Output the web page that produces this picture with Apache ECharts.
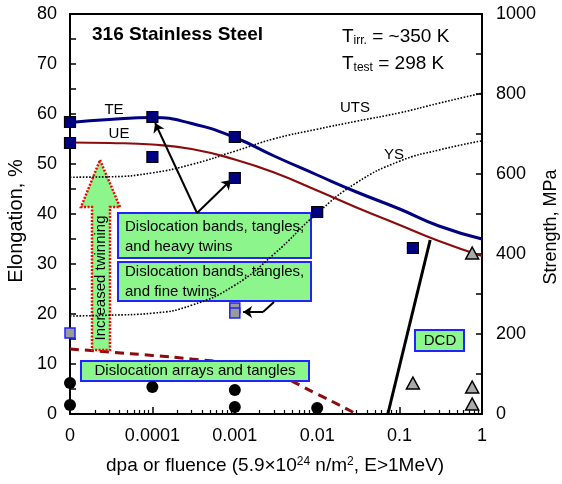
<!DOCTYPE html>
<html>
<head>
<meta charset="utf-8">
<script src="https://cdn.jsdelivr.net/npm/echarts@6/dist/echarts.min.js"></script>
<style>html,body{margin:0;padding:0;background:#fff}#c{width:562px;height:484px}</style>
</head>
<body>
<div id="c"></div>
<script>
// ---- data ----
const xTickLabels = ['0', '0.0001', '0.001', '0.01', '0.1', '1'];
const xTickDpa = [0, 1e-4, 1e-3, 1e-2, 1e-1, 1];

const curveDpa = [0, 3e-5, 1e-4, 3e-4, 1e-3, 3e-3, 1e-2, 3e-2, 0.1, 0.3, 1];
const teValues = [58.3, 58.9, 59.3, 58.1, 55.3, 51.6, 47.8, 44.4, 41.0, 37.6, 35.0];
const ueValues = [54.3, 54.2, 53.9, 53.0, 50.9, 48.3, 44.7, 41.3, 37.8, 34.6, 31.6];
const utsMPa = [592, 593, 603, 624, 657, 688, 712, 732, 753, 777, 802];
const ysMPa = [245, 247, 252, 272, 322, 400, 502, 578, 632, 660, 683];

const dashedDpa = [0, 3e-5, 1e-4, 3e-4, 1e-3, 3e-3, 1e-2, 3e-2];
const dashedValues = [13.0, 12.4, 11.7, 11.0, 10.0, 8.0, 4.0, 0.0];

const navySqDpa = [0, 0, 1e-4, 1e-4, 1e-3, 1e-3, 1e-2, 0.145];
const navySqVal = [58.4, 54.2, 59.4, 51.4, 55.4, 47.2, 40.4, 33.2];
const graySqDpa = [0, 1e-3, 1e-3];
const graySqVal = [16.2, 21.2, 20.2];
const triDpa = [0.76, 0.145, 0.76, 0.76];
const triVal = [32.2, 6.2, 5.4, 2.0];
const circDpa = [0, 0, 1e-4, 1e-3, 1e-3, 1e-2];
const circVal = [6.2, 1.8, 5.4, 4.8, 1.4, 1.2];

const dcdDpa = [0.072, 0.235];
const dcdVal = [0, 34.8];

// annotation arrows: [fromDpa, fromVal, toDpa, toVal, arrow]
const arrowSegs = [
  [3.48e-4, 40.2, 1.08e-4, 58.2, true],
  [3.48e-4, 40.2, 9.0e-4, 46.8, true],
  [2.99e-3, 22.4, 2.2e-3, 20.4, false],
  [2.2e-3, 20.4, 1.26e-3, 20.4, true]
];

// ---- helpers ----
function pos(d) { return d <= 1e-5 ? 0 : Math.log10(d) + 5; }
function pairs(xs, ys) { return xs.map((d, i) => [pos(d), ys[i]]); }
const majorPos = xTickDpa.map(pos);
const minorPos = [];
for (let dec = 0; dec < 5; dec++) for (let k = 2; k <= 9; k++) minorPos.push(dec + Math.log10(k));

const FONT = '"Liberation Sans", Arial, Helvetica, sans-serif';
const GREEN = '#8cf58c';
const BLUE = '#2222ff';
const NAVY = '#000080';
const DRED = '#8b0c0c';
const SMOOTH = 0.5;

const chart = echarts.init(document.getElementById('c'), null, {renderer: 'canvas'});

const option = {
  animation: false,
  backgroundColor: '#fff',
  textStyle: {fontFamily: FONT},
  grid: {left: 70, right: 80, top: 14, bottom: 70, containLabel: false},
  xAxis: [
    {
      type: 'value', min: 0, max: 5, position: 'bottom',
      axisLine: {show: true, onZero: false, lineStyle: {color: '#000', width: 2}},
      axisTick: {show: true, inside: true, length: 7, customValues: majorPos, lineStyle: {color: '#000', width: 1.5}},
      axisLabel: {show: true, customValues: majorPos, margin: 13, fontSize: 18, color: '#000', fontFamily: FONT,
        formatter: v => xTickLabels[Math.round(v)]},
      splitLine: {show: false}
    },
    {
      type: 'value', min: 0, max: 5, position: 'bottom',
      axisLine: {show: false},
      axisTick: {show: true, inside: true, length: 4, customValues: minorPos, lineStyle: {color: '#000', width: 1.2}},
      axisLabel: {show: false},
      splitLine: {show: false}
    },
    {
      type: 'value', min: 0, max: 5, position: 'top',
      axisLine: {show: true, onZero: false, lineStyle: {color: '#000', width: 2}},
      axisTick: {show: false}, axisLabel: {show: false}, splitLine: {show: false}
    }
  ],
  yAxis: [
    {
      type: 'value', min: 0, max: 80, interval: 5, position: 'left',
      axisLine: {show: true, onZero: false, lineStyle: {color: '#000', width: 2}},
      axisTick: {show: true, inside: true, length: 6, lineStyle: {color: '#000', width: 1.5}},
      axisLabel: {margin: 13, fontSize: 18, color: '#000', fontFamily: FONT,
        formatter: v => (v % 10 === 0 ? String(v) : '')},
      splitLine: {show: false}
    },
    {
      type: 'value', min: 0, max: 1000, interval: 100, position: 'right',
      axisLine: {show: true, onZero: false, lineStyle: {color: '#000', width: 2}},
      axisTick: {show: true, inside: true, length: 6, lineStyle: {color: '#000', width: 1.5}},
      axisLabel: {margin: 14, fontSize: 18, color: '#000', fontFamily: FONT,
        formatter: v => (v % 200 === 0 ? String(v) : '')},
      splitLine: {show: false}
    }
  ],
  series: [
    {
      name: 'dashed', type: 'line', z: 1, xAxisIndex: 0, yAxisIndex: 0,
      data: pairs(dashedDpa, dashedValues), smooth: SMOOTH, showSymbol: false,
      lineStyle: {color: DRED, width: 3, type: [9, 6]}, clip: true
    },
    {
      name: 'UTS', type: 'line', z: 3, yAxisIndex: 1,
      data: pairs(curveDpa, utsMPa), smooth: SMOOTH, showSymbol: false,
      lineStyle: {color: '#000', width: 1.6, type: [1.6, 1.6]}
    },
    {
      name: 'YS', type: 'line', z: 3, yAxisIndex: 1,
      data: pairs(curveDpa, ysMPa), smooth: SMOOTH, showSymbol: false,
      lineStyle: {color: '#000', width: 1.6, type: [1.6, 1.6]}
    },
    {
      name: 'UE', type: 'line', z: 3,
      data: pairs(curveDpa, ueValues), smooth: SMOOTH, showSymbol: false,
      lineStyle: {color: DRED, width: 2.2}
    },
    {
      name: 'TE', type: 'line', z: 3,
      data: pairs(curveDpa, teValues), smooth: SMOOTH, showSymbol: false,
      lineStyle: {color: NAVY, width: 3}
    },
    {
      name: 'DCD line', type: 'line', z: 3,
      data: pairs(dcdDpa, dcdVal), showSymbol: false,
      lineStyle: {color: '#000', width: 3}
    },
    {
      name: 'arrows', type: 'line', z: 4, data: [],
      markLine: {
        silent: true, animation: false, precision: 6,
        symbolSize: 9,
        label: {show: false},
        lineStyle: {color: '#000', width: 2, type: 'solid'},
        data: arrowSegs.map(s => [
          {coord: [pos(s[0]), s[1]], symbol: 'none'},
          {coord: [pos(s[2]), s[3]], symbol: s[4] ? 'arrow' : 'none'}
        ])
      }
    },
    {
      name: 'circles', type: 'scatter', z: 5, clip: false,
      data: pairs(circDpa, circVal), symbol: 'circle', symbolSize: 12,
      itemStyle: {color: '#000', borderColor: '#000', borderWidth: 0, opacity: 1}
    },
    {
      name: 'gray squares', type: 'scatter', z: 5, clip: false,
      data: pairs(graySqDpa, graySqVal), symbol: 'rect', symbolSize: 10,
      itemStyle: {color: '#9a9a9a', borderColor: BLUE, borderWidth: 1.5, opacity: 1}
    },
    {
      name: 'triangles', type: 'scatter', z: 5, clip: false,
      data: pairs(triDpa, triVal), symbol: 'triangle', symbolSize: [13, 12],
      itemStyle: {color: '#aaaaaa', borderColor: '#000', borderWidth: 1.5, opacity: 1}
    },
    {
      name: 'navy squares', type: 'scatter', z: 5, clip: false,
      data: pairs(navySqDpa, navySqVal), symbol: 'rect', symbolSize: 11,
      itemStyle: {color: NAVY, borderColor: '#000', borderWidth: 1.2, opacity: 1}
    }
  ],
  graphic: [
    // red "increased twinning" arrow
    {type: 'polygon', z: 2,
      shape: {points: [[100, 160], [120, 207], [110, 207], [110, 350], [92, 350], [92, 207], [81, 207]]},
      style: {fill: GREEN, stroke: '#ff0000', lineWidth: 2.5, lineDash: [2, 1.5]}},
    {type: 'text', z: 2, x: 101, y: 278, rotation: Math.PI / 2,
      style: {text: 'Increased twinning', font: '15px ' + FONT, fill: '#000', align: 'center', verticalAlign: 'middle'}},
    // boxes
    {type: 'rect', z: 2, shape: {x: 118, y: 213, width: 193, height: 45},
      style: {fill: GREEN, stroke: BLUE, lineWidth: 2}},
    {type: 'text', z: 2, x: 125, y: 237,
      style: {text: 'Dislocation bands, tangles,\nand heavy twins', font: '15px ' + FONT, lineHeight: 20, fill: '#000', align: 'left', verticalAlign: 'middle'}},
    {type: 'rect', z: 2, shape: {x: 118, y: 262, width: 193, height: 39},
      style: {fill: GREEN, stroke: BLUE, lineWidth: 2}},
    {type: 'text', z: 2, x: 125, y: 282,
      style: {text: 'Dislocation bands, tangles,\nand fine twins', font: '15px ' + FONT, lineHeight: 20, fill: '#000', align: 'left', verticalAlign: 'middle'}},
    {type: 'rect', z: 2, shape: {x: 81, y: 361, width: 228, height: 20},
      style: {fill: GREEN, stroke: BLUE, lineWidth: 2}},
    {type: 'text', z: 2, x: 195, y: 371,
      style: {text: 'Dislocation arrays and tangles', font: '15px ' + FONT, fill: '#000', align: 'center', verticalAlign: 'middle'}},
    {type: 'rect', z: 2, shape: {x: 415, y: 330, width: 49, height: 21},
      style: {fill: GREEN, stroke: BLUE, lineWidth: 2}},
    {type: 'text', z: 2, x: 440, y: 341,
      style: {text: 'DCD', font: '15px ' + FONT, fill: '#000', align: 'center', verticalAlign: 'middle'}},
    // curve labels
    {type: 'text', z: 6, x: 114, y: 110, style: {text: 'TE', font: '15px ' + FONT, fill: '#000', align: 'center', verticalAlign: 'middle'}},
    {type: 'text', z: 6, x: 119, y: 134, style: {text: 'UE', font: '15px ' + FONT, fill: '#000', align: 'center', verticalAlign: 'middle'}},
    {type: 'text', z: 6, x: 355, y: 108, style: {text: 'UTS', font: '15px ' + FONT, fill: '#000', align: 'center', verticalAlign: 'middle'}},
    {type: 'text', z: 6, x: 394, y: 155, style: {text: 'YS', font: '15px ' + FONT, fill: '#000', align: 'center', verticalAlign: 'middle'}},
    // title and conditions
    {type: 'text', z: 6, x: 92, y: 35, style: {text: '316 Stainless Steel', font: 'bold 19px ' + FONT, fill: '#000', align: 'left', verticalAlign: 'middle'}},
    {type: 'text', z: 6, x: 342, y: 34, style: {
      text: '{a|T}{b|irr.}{a| = ~350 K}', align: 'left', verticalAlign: 'middle',
      rich: {a: {fontSize: 19, fontFamily: FONT, fill: '#000', lineHeight: 24, verticalAlign: 'bottom'},
             b: {fontSize: 12, fontFamily: FONT, fill: '#000', lineHeight: 12, verticalAlign: 'bottom', padding: [0, 0, -1, 0]}}}},
    {type: 'text', z: 6, x: 342, y: 61, style: {
      text: '{a|T}{b|test}{a| = 298 K}', align: 'left', verticalAlign: 'middle',
      rich: {a: {fontSize: 19, fontFamily: FONT, fill: '#000', lineHeight: 24, verticalAlign: 'bottom'},
             b: {fontSize: 12, fontFamily: FONT, fill: '#000', lineHeight: 12, verticalAlign: 'bottom', padding: [0, 0, -1, 0]}}}},
    // axis names
    {type: 'text', z: 6, x: 16, y: 221, rotation: Math.PI / 2,
      style: {text: 'Elongation, %', font: '20px ' + FONT, fill: '#000', align: 'center', verticalAlign: 'middle'}},
    {type: 'text', z: 6, x: 551, y: 227, rotation: Math.PI / 2,
      style: {text: 'Strength, MPa', font: '18px ' + FONT, fill: '#000', align: 'center', verticalAlign: 'middle'}},
    {type: 'text', z: 6, x: 275, y: 468, style: {
      text: '{a|dpa or fluence (5.9×10}{s|24}{a| n/m}{s|2}{a|, E>1MeV)}', align: 'center', verticalAlign: 'middle',
      rich: {a: {fontSize: 19, fontFamily: FONT, fill: '#000', lineHeight: 24, verticalAlign: 'top'},
             s: {fontSize: 12, fontFamily: FONT, fill: '#000', lineHeight: 12, verticalAlign: 'top'}}}}
  ]
};
chart.setOption(option);
</script>
</body>
</html>
